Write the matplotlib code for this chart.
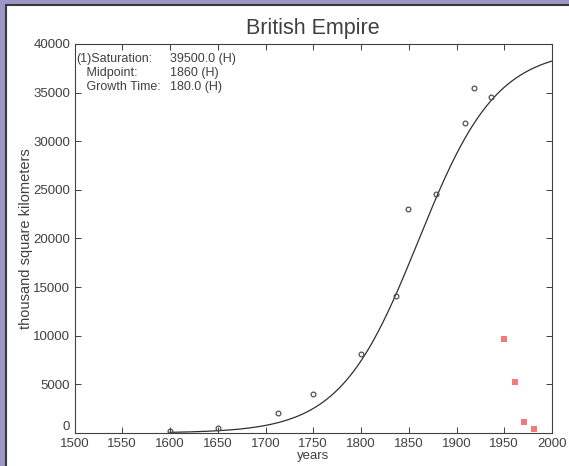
import numpy as np
import matplotlib.pyplot as plt
from matplotlib.patches import Rectangle

plt.rcParams['font.family'] = ['Liberation Sans', 'DejaVu Sans']

# historical data (thousand km^2)
years_hist = [1600, 1650, 1713, 1750, 1800, 1837, 1849, 1879, 1909, 1918, 1936]
area_hist = [250, 550, 2020, 3970, 8100, 14050, 23050, 24550, 31850, 35500, 34500]

# post-war decline, not used in fit
years_late = [1950, 1961, 1971, 1981]
area_late = [9650, 5200, 1180, 450]

# logistic fit parameters
saturation = 39500.0
midpoint = 1860
growth_time = 180.0

t = np.linspace(1600, 2000, 400)
fit = saturation / (1 + np.exp(-np.log(81) / growth_time * (t - midpoint)))

txt = '#404040'
fig = plt.figure(figsize=(5.69, 4.66), dpi=100, facecolor='#9b98c8')
fig.patches.append(Rectangle((6 / 569, -0.01), 1.0, 1 - 5 / 466 + 0.01,
                             transform=fig.transFigure, facecolor='white',
                             edgecolor='#3a3a3a', linewidth=1.5, zorder=-5))

ax = fig.add_axes([74.5 / 569, 1 - 433 / 466, (552 - 74.5) / 569, (433 - 44) / 466])
ax.set_zorder(2)
ax.plot(t, fit, color='#303030', linewidth=0.9)
ax.plot(years_hist, area_hist, 'o', markersize=3.4, markerfacecolor='none',
        markeredgecolor='#505050', markeredgewidth=0.9)
ax.plot(years_late, area_late, 's', markersize=4.3, color='#f27a7a', markeredgewidth=0)

ax.set_xlim(1500, 2000)
ax.set_ylim(0, 40000)
ax.set_xticks(np.arange(1500, 2001, 50))
ax.set_yticks(np.arange(0, 40001, 5000))
ax.tick_params(direction='in', top=True, right=True, length=4, width=0.7,
               labelsize=9.5, colors=txt)
ax.tick_params(axis='x', pad=3.5)
ax.tick_params(axis='y', pad=3)
ax.get_yticklabels()[0].set_va('bottom')
for s in ax.spines.values():
    s.set_color('#404040')
    s.set_linewidth(0.8)

ax.set_title('British Empire', fontsize=15.5, color=txt, pad=7)
ax.set_xlabel('years', fontsize=9.5, color=txt, labelpad=0)
ax.set_ylabel('thousand square kilometers', fontsize=10.5, color=txt, labelpad=0)

labels = ['(1)Saturation:', '   Midpoint:', '   Growth Time:']
values = ['%.1f (H)' % saturation, '%d (H)' % midpoint, '%.1f (H)' % growth_time]
for i in range(3):
    ax.text(0.004, 0.978 - i * 0.036, labels[i], transform=ax.transAxes,
            fontsize=9, color=txt, va='top')
    ax.text(0.200, 0.978 - i * 0.036, values[i], transform=ax.transAxes,
            fontsize=9, color=txt, va='top')

fig.savefig('out.png', dpi=100, facecolor=fig.get_facecolor())
